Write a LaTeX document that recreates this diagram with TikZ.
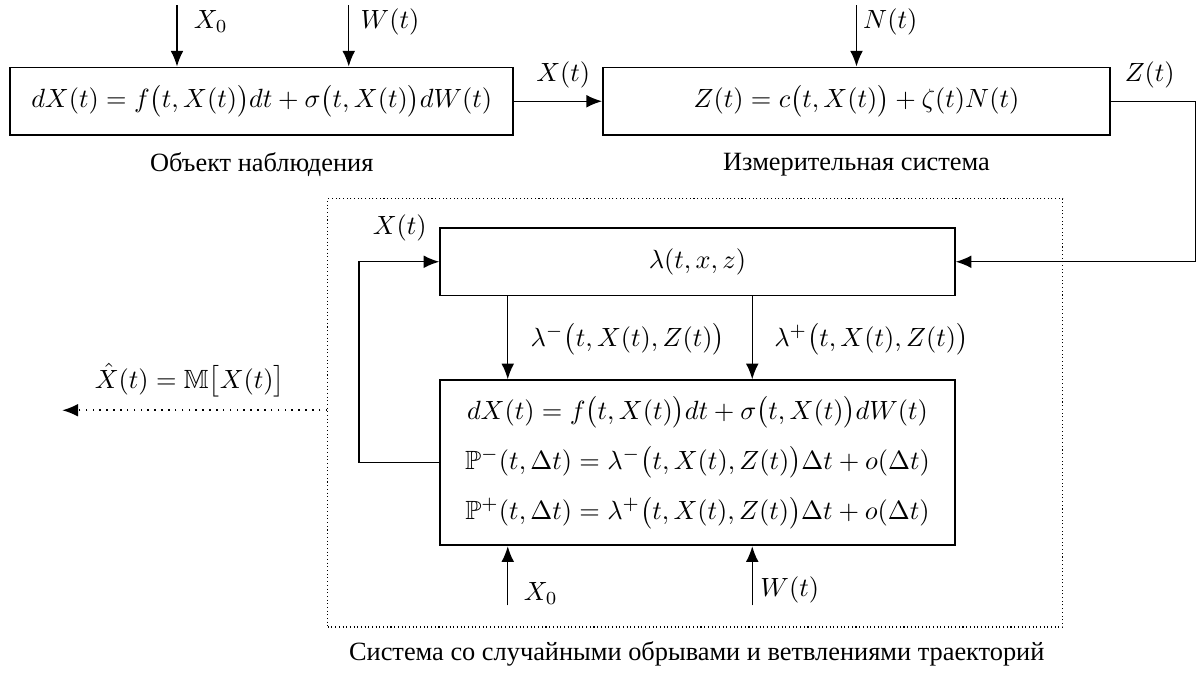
\documentclass[tikz,border=0pt]{standalone}
\usepackage{amsmath,amssymb}
\usepackage{fontspec}
\newfontfamily\cyrfont{Liberation Serif}
\usetikzlibrary{arrows.meta,positioning}

\begin{document}
\begin{tikzpicture}[
	block/.style={ draw, line width=0.7pt, rectangle, inner sep=4pt, minimum height=0.9cm },
	arr/.style={ line width=0.55pt, -{Latex[length=2.1mm,width=1.7mm]} },
	dotarr/.style={ line width=0.6pt, dotted, -{Latex[length=2.1mm,width=1.7mm]} },
	capt/.style={ font=\cyrfont }
]
\useasboundingbox (0,0) rectangle (15.96,-9);

% object and measuring system
\node at (3.49,-1.35) (obj) [block, minimum width=6.71cm] {$dX(t)=f\bigl(t,X(t)\bigr)dt+\sigma\bigl(t,X(t)\bigr)dW(t)$};
\node at (11.42,-1.35) (meas) [block, minimum width=6.76cm] {$Z(t)=c\bigl(t,X(t)\bigr)+\zeta(t)N(t)$};
\node at (3.49,-2.2) (objcap) [capt] {Объект наблюдения};
\node at (11.42,-2.2) (meascap) [capt] {Измерительная система};

\coordinate (x0top) at (2.36,-0.07);
\coordinate (wtop) at (4.65,-0.07);
\coordinate (ntop) at (11.42,-0.07);
\foreach \p in {x0top,wtop} \draw[arr] (\p) -- (\p |- obj.north);
\draw[arr] (ntop) -- (meas.north);
\node at (2.81,-0.29) (x0lab) {$X_0$};
\node at (5.2,-0.29) (wlab) {$W(t)$};
\node at (11.87,-0.29) (nlab) {$N(t)$};

\draw[arr] (obj.east) -- (meas.west);
\node at (7.51,-1.0) (xlab) {$X(t)$};
\node at (15.33,-1.0) (zlab) {$Z(t)$};

% system with random breaks and branchings
\node at (9.27,-5.505) (sys) [draw, thin, densely dotted, minimum width=9.8cm, minimum height=5.71cm] {};
\node at (9.29,-8.72) (syscap) [capt] {Система со случайными обрывами и ветвлениями траекторий};

\node at (9.3,-3.49) (lam) [block, minimum width=6.86cm] {$\lambda(t,x,z)$};
\node at (9.3,-6.17) (sim) [block, minimum width=6.86cm, minimum height=2.2cm, align=center] {%
	$dX(t)=f\bigl(t,X(t)\bigr)dt+\sigma\bigl(t,X(t)\bigr)dW(t)$\\[6pt]
	$\mathbb{P}^-(t,\Delta t)=\lambda^-\bigl(t,X(t),Z(t)\bigr)\Delta t+o(\Delta t)$\\[6pt]
	$\mathbb{P}^+(t,\Delta t)=\lambda^+\bigl(t,X(t),Z(t)\bigr)\Delta t+o(\Delta t)$};

\draw[arr] (meas.east) -- ++(1.13,0) |- (lam.east);
\draw[arr] (sim.west) -- ++(-1.07,0) |- (lam.west);
\node at (5.33,-3.04) (xlab2) {$X(t)$};

\coordinate (lmin) at (6.77,-3.95);
\coordinate (lplus) at (10.03,-3.95);
\foreach \p in {lmin,lplus} \draw[arr] (\p |- lam.south) -- (\p |- sim.north);
\node at (6.95,-4.53) (lminlab) [anchor=west] {$\lambda^-\bigl(t,X(t),Z(t)\bigr)$};
\node at (10.2,-4.53) (lpluslab) [anchor=west] {$\lambda^+\bigl(t,X(t),Z(t)\bigr)$};

\coordinate (x0bot) at (6.77,-8.07);
\coordinate (wbot) at (10.03,-8.07);
\foreach \p in {x0bot,wbot} \draw[arr] (\p) -- (\p |- sim.south);
\node at (7.21,-7.91) (x0lab2) {$X_0$};
\node at (10.53,-7.87) (wlab2) {$W(t)$};

\coordinate (xhat) at (0.83,-5.47);
\draw[dotarr] (sys.west |- xhat) -- (xhat);
\node at (2.53,-5.07) (xhatlab) {$\hat{X}(t)=\mathbb{M}\bigl[X(t)\bigr]$};

\end{tikzpicture}
\end{document}
